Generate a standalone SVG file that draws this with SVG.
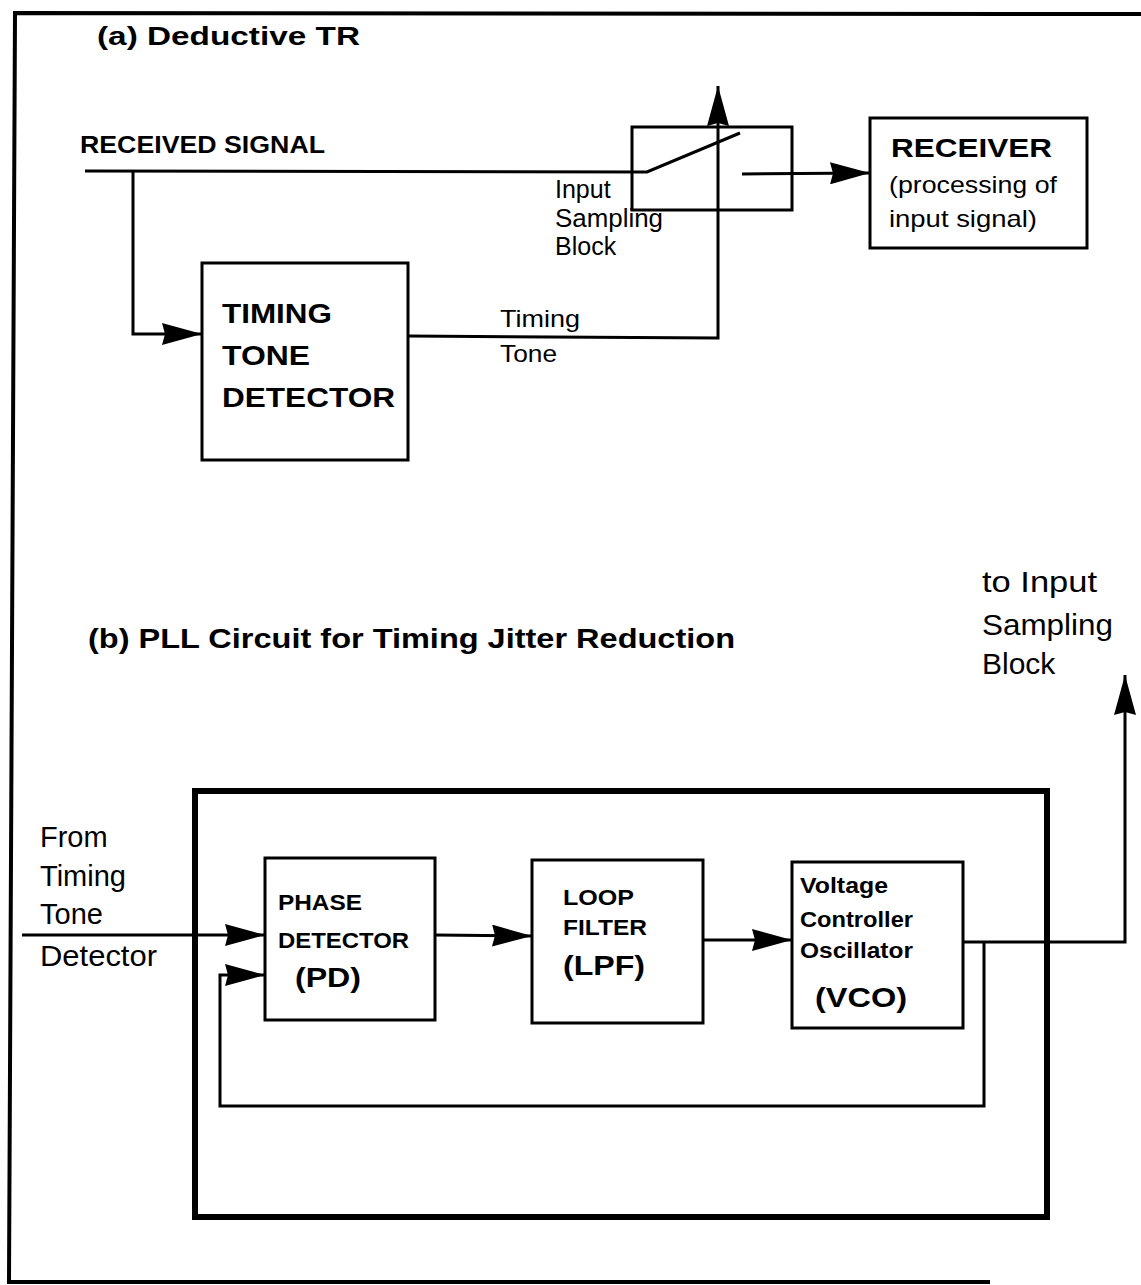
<svg xmlns="http://www.w3.org/2000/svg" width="1141" height="1285" viewBox="0 0 1141 1285">
<defs>
<marker id="ah" markerUnits="userSpaceOnUse" markerWidth="40" markerHeight="22" refX="40" refY="11" orient="auto" viewBox="0 0 40 22">
<path d="M0,0 L40,11 L0,22 L3,11 z" fill="#000"/>
</marker>
<style>
.ln{fill:none;stroke:#000;stroke-width:3}
.bx{fill:none;stroke:#000;stroke-width:3}
.b{font-family:"Liberation Sans",Arial,sans-serif;font-weight:bold;fill:#000}
.r{font-family:"Liberation Sans",Arial,sans-serif;fill:#000}
</style>
</defs>
<rect width="1141" height="1285" fill="#fff"/>
<g id="frame">
<path d="M1141,14 L15,13 L9,1282 L990,1282" fill="none" stroke="#000" stroke-width="4"/>
</g>
<g id="titles">
<text class="b" x="97" y="45" font-size="25" textLength="263" lengthAdjust="spacingAndGlyphs">(a)  Deductive TR</text>
<text class="b" x="80" y="153" font-size="24" textLength="245" lengthAdjust="spacingAndGlyphs">RECEIVED SIGNAL</text>
<text class="b" x="88" y="648" font-size="28" textLength="647" lengthAdjust="spacingAndGlyphs">(b) PLL Circuit for Timing Jitter Reduction</text>
</g>
<g id="ttd">
<rect class="bx" x="202" y="263" width="206" height="197"/>
<text class="b" x="222" y="323" font-size="28" textLength="110" lengthAdjust="spacingAndGlyphs">TIMING</text>
<text class="b" x="222" y="365" font-size="28" textLength="88" lengthAdjust="spacingAndGlyphs">TONE</text>
<text class="b" x="222" y="407" font-size="28" textLength="173" lengthAdjust="spacingAndGlyphs">DETECTOR</text>
</g>
<g id="sampler">
<rect class="bx" x="632" y="127" width="160" height="83"/>
<text class="r" x="555" y="198" font-size="25">Input</text>
<text class="r" x="555" y="227" font-size="25" textLength="108" lengthAdjust="spacingAndGlyphs">Sampling</text>
<text class="r" x="555" y="255" font-size="25">Block</text>
</g>
<g id="receiver">
<rect class="bx" x="870" y="118" width="217" height="130"/>
<text class="b" x="891" y="157" font-size="26" textLength="161" lengthAdjust="spacingAndGlyphs">RECEIVER</text>
<text class="r" x="889" y="193" font-size="24" textLength="168" lengthAdjust="spacingAndGlyphs">(processing of</text>
<text class="r" x="889" y="227" font-size="24" textLength="148" lengthAdjust="spacingAndGlyphs">input signal)</text>
</g>
<g id="pll">
<rect x="195" y="791" width="852" height="426" fill="none" stroke="#000" stroke-width="6"/>
</g>
<g id="pd">
<rect class="bx" x="265" y="858" width="170" height="162"/>
<text class="b" x="278" y="910" font-size="22" textLength="84" lengthAdjust="spacingAndGlyphs">PHASE</text>
<text class="b" x="278" y="948" font-size="22" textLength="131" lengthAdjust="spacingAndGlyphs">DETECTOR</text>
<text class="b" x="295" y="987" font-size="28" textLength="66" lengthAdjust="spacingAndGlyphs">(PD)</text>
</g>
<g id="lpf">
<rect class="bx" x="532" y="860" width="171" height="163"/>
<text class="b" x="563" y="905" font-size="22" textLength="71" lengthAdjust="spacingAndGlyphs">LOOP</text>
<text class="b" x="563" y="935" font-size="22" textLength="84" lengthAdjust="spacingAndGlyphs">FILTER</text>
<text class="b" x="563" y="975" font-size="28" textLength="82" lengthAdjust="spacingAndGlyphs">(LPF)</text>
</g>
<g id="vco">
<rect class="bx" x="792" y="862" width="171" height="166"/>
<text class="b" x="800" y="893" font-size="22" textLength="88" lengthAdjust="spacingAndGlyphs">Voltage</text>
<text class="b" x="800" y="927" font-size="22" textLength="113" lengthAdjust="spacingAndGlyphs">Controller</text>
<text class="b" x="800" y="958" font-size="22" textLength="113" lengthAdjust="spacingAndGlyphs">Oscillator</text>
<text class="b" x="815" y="1007" font-size="28" textLength="92" lengthAdjust="spacingAndGlyphs">(VCO)</text>
</g>
<g id="labels">
<text class="r" x="500" y="327" font-size="24" textLength="80" lengthAdjust="spacingAndGlyphs">Timing</text>
<text class="r" x="500" y="362" font-size="24" textLength="57" lengthAdjust="spacingAndGlyphs">Tone</text>
<text class="r" x="982" y="592" font-size="30" textLength="115" lengthAdjust="spacingAndGlyphs">to Input</text>
<text class="r" x="982" y="635" font-size="30" textLength="131" lengthAdjust="spacingAndGlyphs">Sampling</text>
<text class="r" x="982" y="674" font-size="30">Block</text>
<text class="r" x="40" y="847" font-size="29">From</text>
<text class="r" x="40" y="886" font-size="29">Timing</text>
<text class="r" x="40" y="924" font-size="29">Tone</text>
<text class="r" x="40" y="966" font-size="29" textLength="117" lengthAdjust="spacingAndGlyphs">Detector</text>
</g>
<g id="connectors">
<path class="ln" d="M85,171 L647,172 L740,133"/>
<path class="ln" d="M133,171 L133,334 L202,334" marker-end="url(#ah)"/>
<path class="ln" d="M408,336 L718,338 L718,86" marker-end="url(#ah)"/>
<path class="ln" d="M742,174 L870,173" marker-end="url(#ah)"/>
<path class="ln" d="M22,935 L265,935" marker-end="url(#ah)"/>
<path class="ln" d="M435,935 L532,936" marker-end="url(#ah)"/>
<path class="ln" d="M703,940 L792,940" marker-end="url(#ah)"/>
<path class="ln" d="M963,942 L1125,942 L1125,675" marker-end="url(#ah)"/>
<path class="ln" d="M984,942 L984,1106 L220,1106 L220,975 L265,975" marker-end="url(#ah)"/>
</g>
</svg>
